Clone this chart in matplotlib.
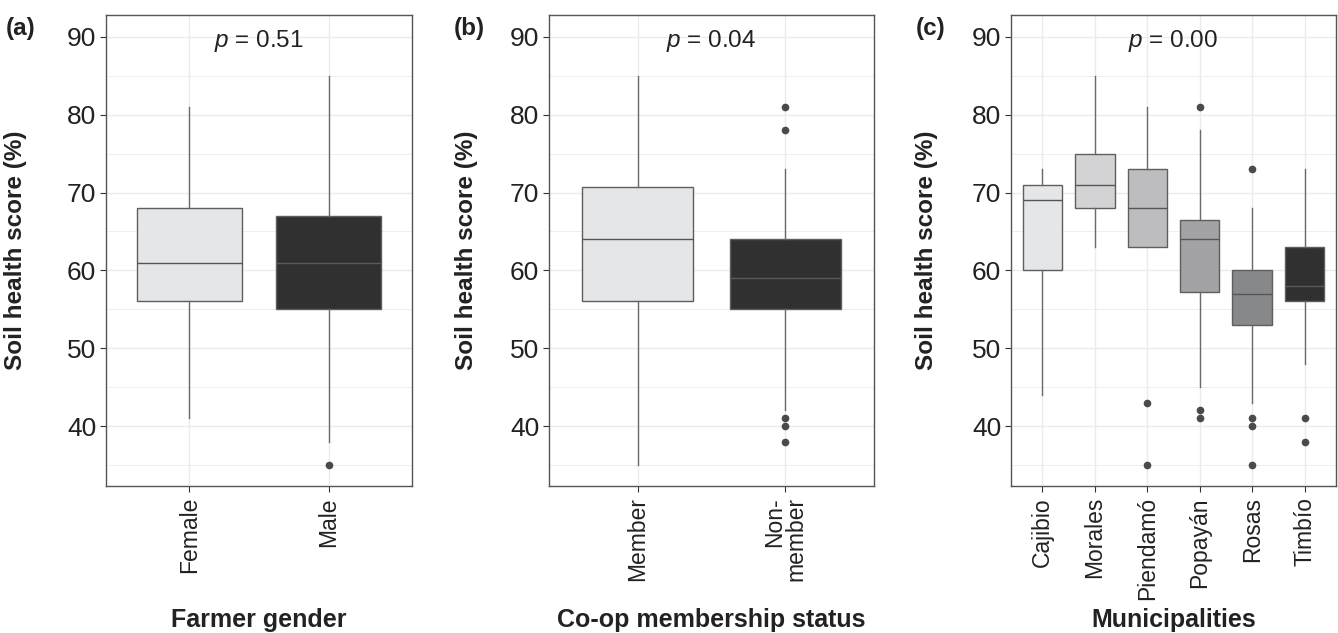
import matplotlib
matplotlib.use("Agg")
import matplotlib.pyplot as plt

plt.rcParams['font.family'] = ['Liberation Sans', 'DejaVu Sans']
plt.rcParams['mathtext.fontset'] = 'custom'
plt.rcParams['mathtext.it'] = 'Liberation Sans:italic'
plt.rcParams['mathtext.rm'] = 'Liberation Sans'

# panel (a): farmer gender
gender_labels = ['Female', 'Male']
gender_whislo = [41, 38]
gender_q1 = [56, 55]
gender_med = [61, 61]
gender_q3 = [68, 67]
gender_whishi = [81, 85]
gender_fliers = [[], [35]]
gender_colors = ['#e5e6e8', '#313031']

# panel (b): co-op membership
coop_labels = ['Member', 'Non-\nmember']
coop_whislo = [35, 42]
coop_q1 = [56, 55]
coop_med = [64, 59]
coop_q3 = [70.7, 64]
coop_whishi = [85, 73]
coop_fliers = [[], [81, 78, 41, 40, 38]]
coop_colors = ['#e5e6e8', '#313031']

# panel (c): municipalities
muni_labels = ['Cajibio', 'Morales', 'Piendamó', 'Popayán', 'Rosas', 'Timbío']
muni_whislo = [44, 63, 63, 45, 43, 48]
muni_q1 = [60, 68, 63, 57.2, 53, 56]
muni_med = [69, 71, 68, 64, 57, 58]
muni_q3 = [71, 75, 73, 66.5, 60, 63]
muni_whishi = [73, 85, 81, 78, 68, 73]
muni_fliers = [[], [], [43, 35], [81, 42, 41], [73, 41, 40, 35], [41, 38]]
muni_colors = ['#e5e6e8', '#d3d3d5', '#bdbdbf', '#a3a3a5', '#87888a', '#313031']

p_texts = ['0.51', '0.04', '0.00']
panel_tags = ['(a)', '(b)', '(c)']
xtitles = ['Farmer gender', 'Co-op membership status', 'Municipalities']

W, H = 1338, 633
fig = plt.figure(figsize=(W / 100, H / 100), dpi=100)

# axes boxes in pixels: left, right
boxes = [(106, 412), (549, 874), (1011, 1336)]
top, bottom = 15, 486
ylab_x = [16, 466, 927]
tag_x = [6, 454, 916]

panels = [
    (gender_labels, gender_whislo, gender_q1, gender_med, gender_q3, gender_whishi, gender_fliers, gender_colors),
    (coop_labels, coop_whislo, coop_q1, coop_med, coop_q3, coop_whishi, coop_fliers, coop_colors),
    (muni_labels, muni_whislo, muni_q1, muni_med, muni_q3, muni_whishi, muni_fliers, muni_colors),
]

for i, (labels, lo, q1, med, q3, hi, fl, cols) in enumerate(panels):
    l, r = boxes[i]
    ax = fig.add_axes([l / W, (H - bottom) / H, (r - l) / W, (bottom - top) / H])
    stats = []
    for j in range(len(labels)):
        stats.append(dict(med=med[j], q1=q1[j], q3=q3[j], whislo=lo[j], whishi=hi[j], fliers=fl[j]))
    pos = list(range(1, len(labels) + 1))
    bp = ax.bxp(stats, positions=pos, widths=0.75, patch_artist=True, showcaps=False,
                boxprops=dict(edgecolor='#5e5e5e', linewidth=1.0),
                whiskerprops=dict(color='#6a6a6a', linewidth=1.0),
                medianprops=dict(color='#555555', linewidth=1.0),
                flierprops=dict(marker='o', markerfacecolor='#4a4a4a', markeredgecolor='#4a4a4a',
                                markersize=4.5))
    for patch, c in zip(bp['boxes'], cols):
        patch.set_facecolor(c)
    for k, c in enumerate(cols):
        if c == '#313031':
            bp['medians'][k].set_color('#5a5a5a')
    for b in bp['boxes'] + bp['whiskers'] + bp['medians'] + bp['fliers']:
        b.set_zorder(3)

    ax.set_xlim(0.4, len(labels) + 0.6)
    ax.set_ylim(32.3, 92.8)
    ax.set_yticks([40, 50, 60, 70, 80, 90])
    ax.set_yticks([35, 45, 55, 65, 75, 85], minor=True)
    ax.set_xticks(pos)
    ax.set_xticklabels(labels, rotation=90, ha='center', va='top', multialignment='right',
                       fontsize=16.5, color='#222222', linespacing=0.95)
    ax.tick_params(axis='y', labelsize=19, labelcolor='#222222', color='#333333', length=4, width=0.8,
                   pad=3)
    ax.tick_params(axis='x', color='#333333', length=4, width=0.8, pad=4)
    ax.tick_params(axis='y', which='minor', length=0)
    ax.grid(True, which='major', color='#ebebeb', linewidth=1.0, zorder=0)
    ax.grid(True, which='minor', axis='y', color='#ebebeb', linewidth=0.6, zorder=0)
    ax.set_axisbelow(True)
    for s in ax.spines.values():
        s.set_color('#555555')
        s.set_linewidth(1.0)

    ax.text((len(labels) + 1) / 2, 89.4, '$p$ = ' + p_texts[i], ha='center', va='center',
            fontsize=17.5, color='#222222')

    fig.text(ylab_x[i] / W, 1 - 250 / H, 'Soil health score (%)', rotation=90, ha='center',
             va='center', fontsize=17.5, fontweight='bold', color='#222222')
    fig.text(tag_x[i] / W, 1 - 28 / H, panel_tags[i], ha='left', va='center', fontsize=17.5,
             fontweight='bold', color='#222222')
    fig.text((l + r) / 2 / W, 1 - 620 / H, xtitles[i], ha='center', va='center', fontsize=18,
             fontweight='bold', color='#222222')

fig.savefig('out.png', dpi=100)
